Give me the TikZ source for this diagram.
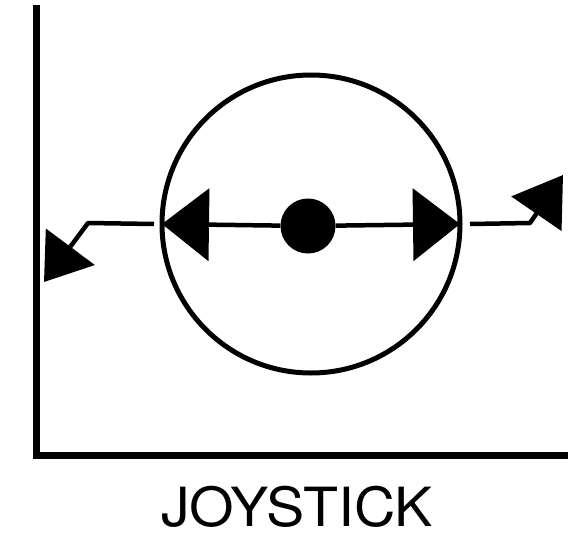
\documentclass[tikz,border=0pt]{standalone}
\usepackage{fontspec}
\setmainfont{TeX Gyre Heros}
\usetikzlibrary{arrows.meta}

\begin{document}
\begin{tikzpicture}[x=1pt, y=-1pt,
  axis/.style={line width=7pt, line cap=rect},
  stem/.style={line width=4.5pt, -{Triangle[length=47pt, width=72pt]}},
  link/.style={line width=4.5pt, line join=round},
  caption/.style={font=\fontsize{54}{60}\selectfont, inner sep=0pt, xscale=1.06}]
  \useasboundingbox (0,0) rectangle (568,538);
  %% Frame of the panel
  \coordinate (top) at (36,8);
  \coordinate (corner) at (36,455);
  \coordinate (edge) at (568,455);
  \draw[axis] (top) -- (corner) -- (edge);
  %% Stick ring and knob
  \node[draw, circle, line width=5pt, outer sep=0pt, minimum size=298pt] (ring) at (311,224) {};
  \node[fill, circle, inner sep=0pt, minimum size=55pt] (knob) at (308,226) {};
  \draw[stem] (knob) -- (ring.west);
  \draw[stem] (knob) -- (ring.east);
  %% Outgoing leads
  \coordinate (lbend) at (88,223);
  \coordinate (ltip) at (44,282);
  \coordinate (rbend) at (530,223);
  \coordinate (rtip) at (563,175);
  \draw[link, -{Triangle[length=44pt, width=60pt]}] ([xshift=-8pt]ring.west) -- (lbend) -- (ltip);
  \draw[link, -{Triangle[length=47pt, width=60pt]}] ([xshift=10pt]ring.east) -- (rbend) -- (rtip);
  %% Label
  \node[caption] (label) at (297,507) {JOYSTICK};
\end{tikzpicture}
\end{document}
